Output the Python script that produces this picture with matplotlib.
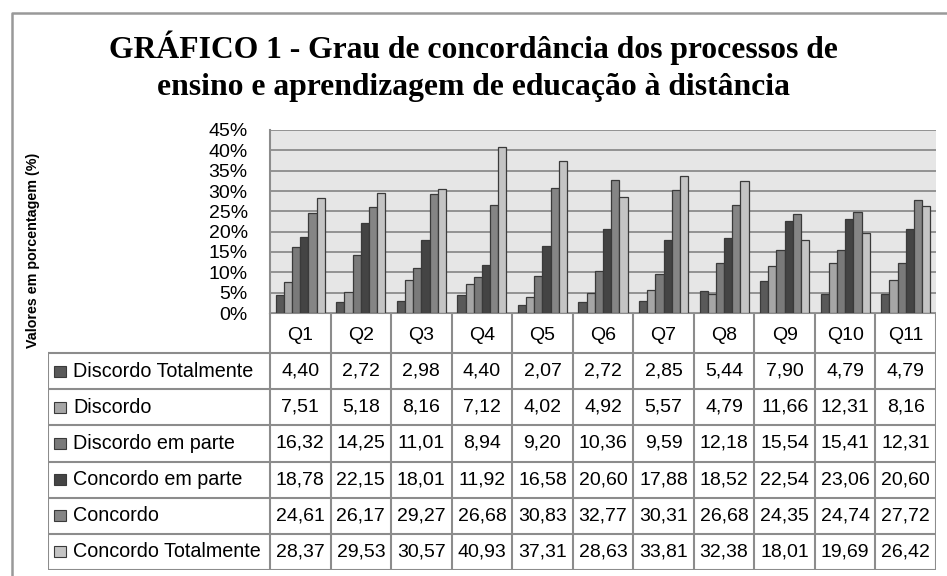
import matplotlib
matplotlib.use("Agg")
import matplotlib.pyplot as plt
import numpy as np
from matplotlib.patches import Rectangle
from matplotlib.lines import Line2D

categories = ["Q1", "Q2", "Q3", "Q4", "Q5", "Q6", "Q7", "Q8", "Q9", "Q10", "Q11"]
series_names = ["Discordo Totalmente", "Discordo", "Discordo em parte",
                "Concordo em parte", "Concordo", "Concordo Totalmente"]
discordo_totalmente = [4.40, 2.72, 2.98, 4.40, 2.07, 2.72, 2.85, 5.44, 7.90, 4.79, 4.79]
discordo = [7.51, 5.18, 8.16, 7.12, 4.02, 4.92, 5.57, 4.79, 11.66, 12.31, 8.16]
discordo_em_parte = [16.32, 14.25, 11.01, 8.94, 9.20, 10.36, 9.59, 12.18, 15.54, 15.41, 12.31]
concordo_em_parte = [18.78, 22.15, 18.01, 11.92, 16.58, 20.60, 17.88, 18.52, 22.54, 23.06, 20.60]
concordo = [24.61, 26.17, 29.27, 26.68, 30.83, 32.77, 30.31, 26.68, 24.35, 24.74, 27.72]
concordo_totalmente = [28.37, 29.53, 30.57, 40.93, 37.31, 28.63, 33.81, 32.38, 18.01, 19.69, 26.42]
series_values = [discordo_totalmente, discordo, discordo_em_parte,
                 concordo_em_parte, concordo, concordo_totalmente]
colors = ["#595959", "#a6a6a6", "#7a7a7a", "#444444", "#858585", "#c4c4c4"]
yticks = [0, 5, 10, 15, 20, 25, 30, 35, 40, 45]

W, H = 947, 576
fig = plt.figure(figsize=(W / 100, H / 100), dpi=100)
fig.patch.set_facecolor("white")

def rect(l, t, r, b):
    return [l / W, 1 - b / H, (r - l) / W, (b - t) / H]

# outer frame
frame = fig.add_axes([0, 0, 1, 1], zorder=-5)
frame.set_xlim(0, W); frame.set_ylim(H, 0); frame.axis("off")
frame.plot([12, 12, W], [H, 13, 13], color="#999999", lw=1.8, solid_capstyle="butt")

# title
fig.text(0.5, 1 - 48 / H, "GRÁFICO 1 - Grau de concordância dos processos de",
         ha="center", va="center", fontsize=22.8, fontweight="bold", family="Liberation Serif")
fig.text(0.5, 1 - 88 / H, "ensino e aprendizagem de educação à distância",
         ha="center", va="center", fontsize=22.8, fontweight="bold", family="Liberation Serif")

# bar chart
L, R, T, B = 270, 936, 130, 313
ax = fig.add_axes(rect(L, T, R, B))
ax.set_facecolor("#e6e6e6")
n = len(categories)
x = np.arange(n)
bw = 0.135
for i, (vals, c) in enumerate(zip(series_values, colors)):
    ax.bar(x + (i - 2.5) * bw, np.array(vals) / 100, width=bw, color=c,
           edgecolor="#3a3a3a", linewidth=0.9, zorder=3)
ax.set_xlim(-0.5, n - 0.5)
ax.set_ylim(0, 0.45)
ax.set_yticks([v / 100 for v in yticks])
ax.set_yticklabels([f"{v}%" for v in yticks], fontsize=14, family="Liberation Sans")
ax.tick_params(axis="y", length=0, pad=16)
ax.set_xticks([])
ax.yaxis.grid(True, color="#8c8c8c", lw=1.3, zorder=0)
ax.set_axisbelow(True)
for s in ["top", "right", "left", "bottom"]:
    ax.spines[s].set_visible(False)
ax.plot([-0.5, -0.5], [0, 0.45], color="#8c8c8c", lw=1.5, zorder=4, clip_on=False)

# data table
TL, TB = 48, 570
header_b = 353
ncols_label = (L - TL) / ((R - L) / n)
tax = fig.add_axes(rect(TL, B, R, TB))
tax.set_xlim(-0.5 - ncols_label, n - 0.5)
nrows = len(series_names)
row_h = (TB - header_b) / nrows
header_h = header_b - B
total_h = header_h + nrows * row_h
tax.set_ylim(total_h, 0)
tax.axis("off")
lc = "#8c8c8c"
lw = 1.5
xl = -0.5 - ncols_label
tax.add_line(Line2D([-0.5, n - 0.5], [0, 0], color=lc, lw=lw))
for j in range(n + 1):
    tax.add_line(Line2D([j - 0.5, j - 0.5], [0, total_h], color=lc, lw=lw))
for j, cat in enumerate(categories):
    tax.text(j, header_h / 2 + 2, cat, ha="center", va="center", fontsize=14,
             family="Liberation Sans")
for r in range(nrows + 1):
    y = header_h + r * row_h
    tax.add_line(Line2D([xl, n - 0.5], [y, y], color=lc, lw=lw))
tax.add_line(Line2D([xl, xl], [header_h, total_h], color=lc, lw=lw))
ppx = ((n - 0.5) - xl) / (R - TL)  # data units per pixel
for r, (name, vals, c) in enumerate(zip(series_names, series_values, colors)):
    yc = header_h + (r + 0.5) * row_h
    tax.add_patch(Rectangle((xl + 6 * ppx, yc - 5.5), 12 * ppx, 11, facecolor=c,
                            edgecolor="#3a3a3a", lw=0.8))
    tax.text(xl + 25 * ppx, yc, name, ha="left", va="center", fontsize=14.2,
             family="Liberation Sans")
    for j, v in enumerate(vals):
        tax.text(j, yc, f"{v:.2f}".replace(".", ","), ha="center", va="center",
                 fontsize=14, family="Liberation Sans")

# y label
fig.text(33 / W, 1 - 250 / H, "Valores em porcentagem (%)", rotation=90,
         ha="center", va="center", fontsize=10.3, fontweight="bold", family="Liberation Sans")

fig.savefig("out.png", dpi=100, facecolor="white")
